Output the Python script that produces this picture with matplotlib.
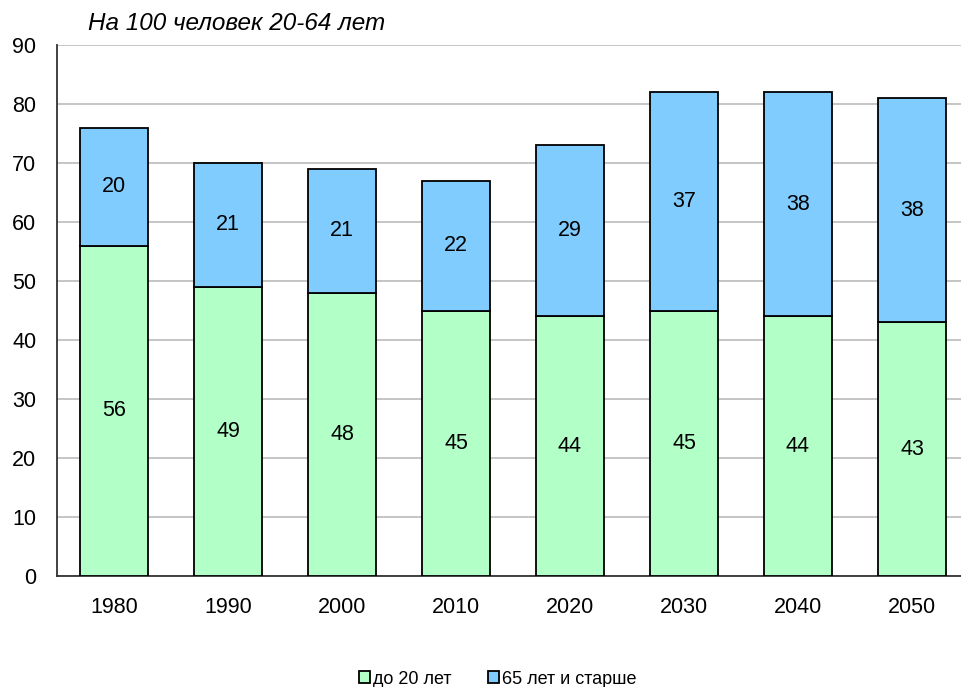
import matplotlib.pyplot as plt
import numpy as np

years = ["1980", "1990", "2000", "2010", "2020", "2030", "2040", "2050"]
young = [56, 49, 48, 45, 44, 45, 44, 43]
old = [20, 21, 21, 22, 29, 37, 38, 38]

plt.rcParams['font.family'] = ['Liberation Sans', 'DejaVu Sans']

fig = plt.figure(figsize=(9.61, 6.87), dpi=100)
ax = fig.add_axes([57/961, 111/687, 912/961, 531/687])

x = np.arange(len(years))
b1 = ax.bar(x, young, width=0.6, color="#B3FFC8", edgecolor="black", linewidth=1.3,
            label="до 20 лет", zorder=3)
b2 = ax.bar(x, old, width=0.6, bottom=young, color="#80CCFF", edgecolor="black",
            linewidth=1.3, label="65 лет и старше", zorder=3)
ax.bar_label(b1, label_type="center", fontsize=15.5)
ax.bar_label(b2, label_type="center", fontsize=15.5)

ax.set_xlim(-0.5, len(years) - 0.5)
ax.set_ylim(0, 90)
ax.set_yticks(range(0, 91, 10))
ax.set_xticks(x)
ax.set_xticklabels(years)
ax.tick_params(axis="both", length=0, labelsize=15.5)
ax.tick_params(axis="x", pad=15)
ax.tick_params(axis="y", pad=15)
ax.grid(axis="y", color="#BBBBBB", linewidth=1.2, zorder=0)
for s in ["top", "right"]:
    ax.spines[s].set_visible(False)
ax.spines["left"].set_color("#333333")
ax.spines["bottom"].set_color("#333333")
ax.spines["left"].set_linewidth(1.3)
ax.spines["bottom"].set_linewidth(1.3)

fig.text(88/961, 1 - 23/687, "На 100 человек 20-64 лет", fontsize=17.5, style="italic",
         va="center", ha="left")

fig.legend(loc="center", bbox_to_anchor=(498/961, 1 - 679/687), ncol=2, frameon=False,
           fontsize=13, handlelength=0.6, handleheight=0.6, handletextpad=0.2,
           columnspacing=2.0)

fig.savefig("out.png", dpi=100)
